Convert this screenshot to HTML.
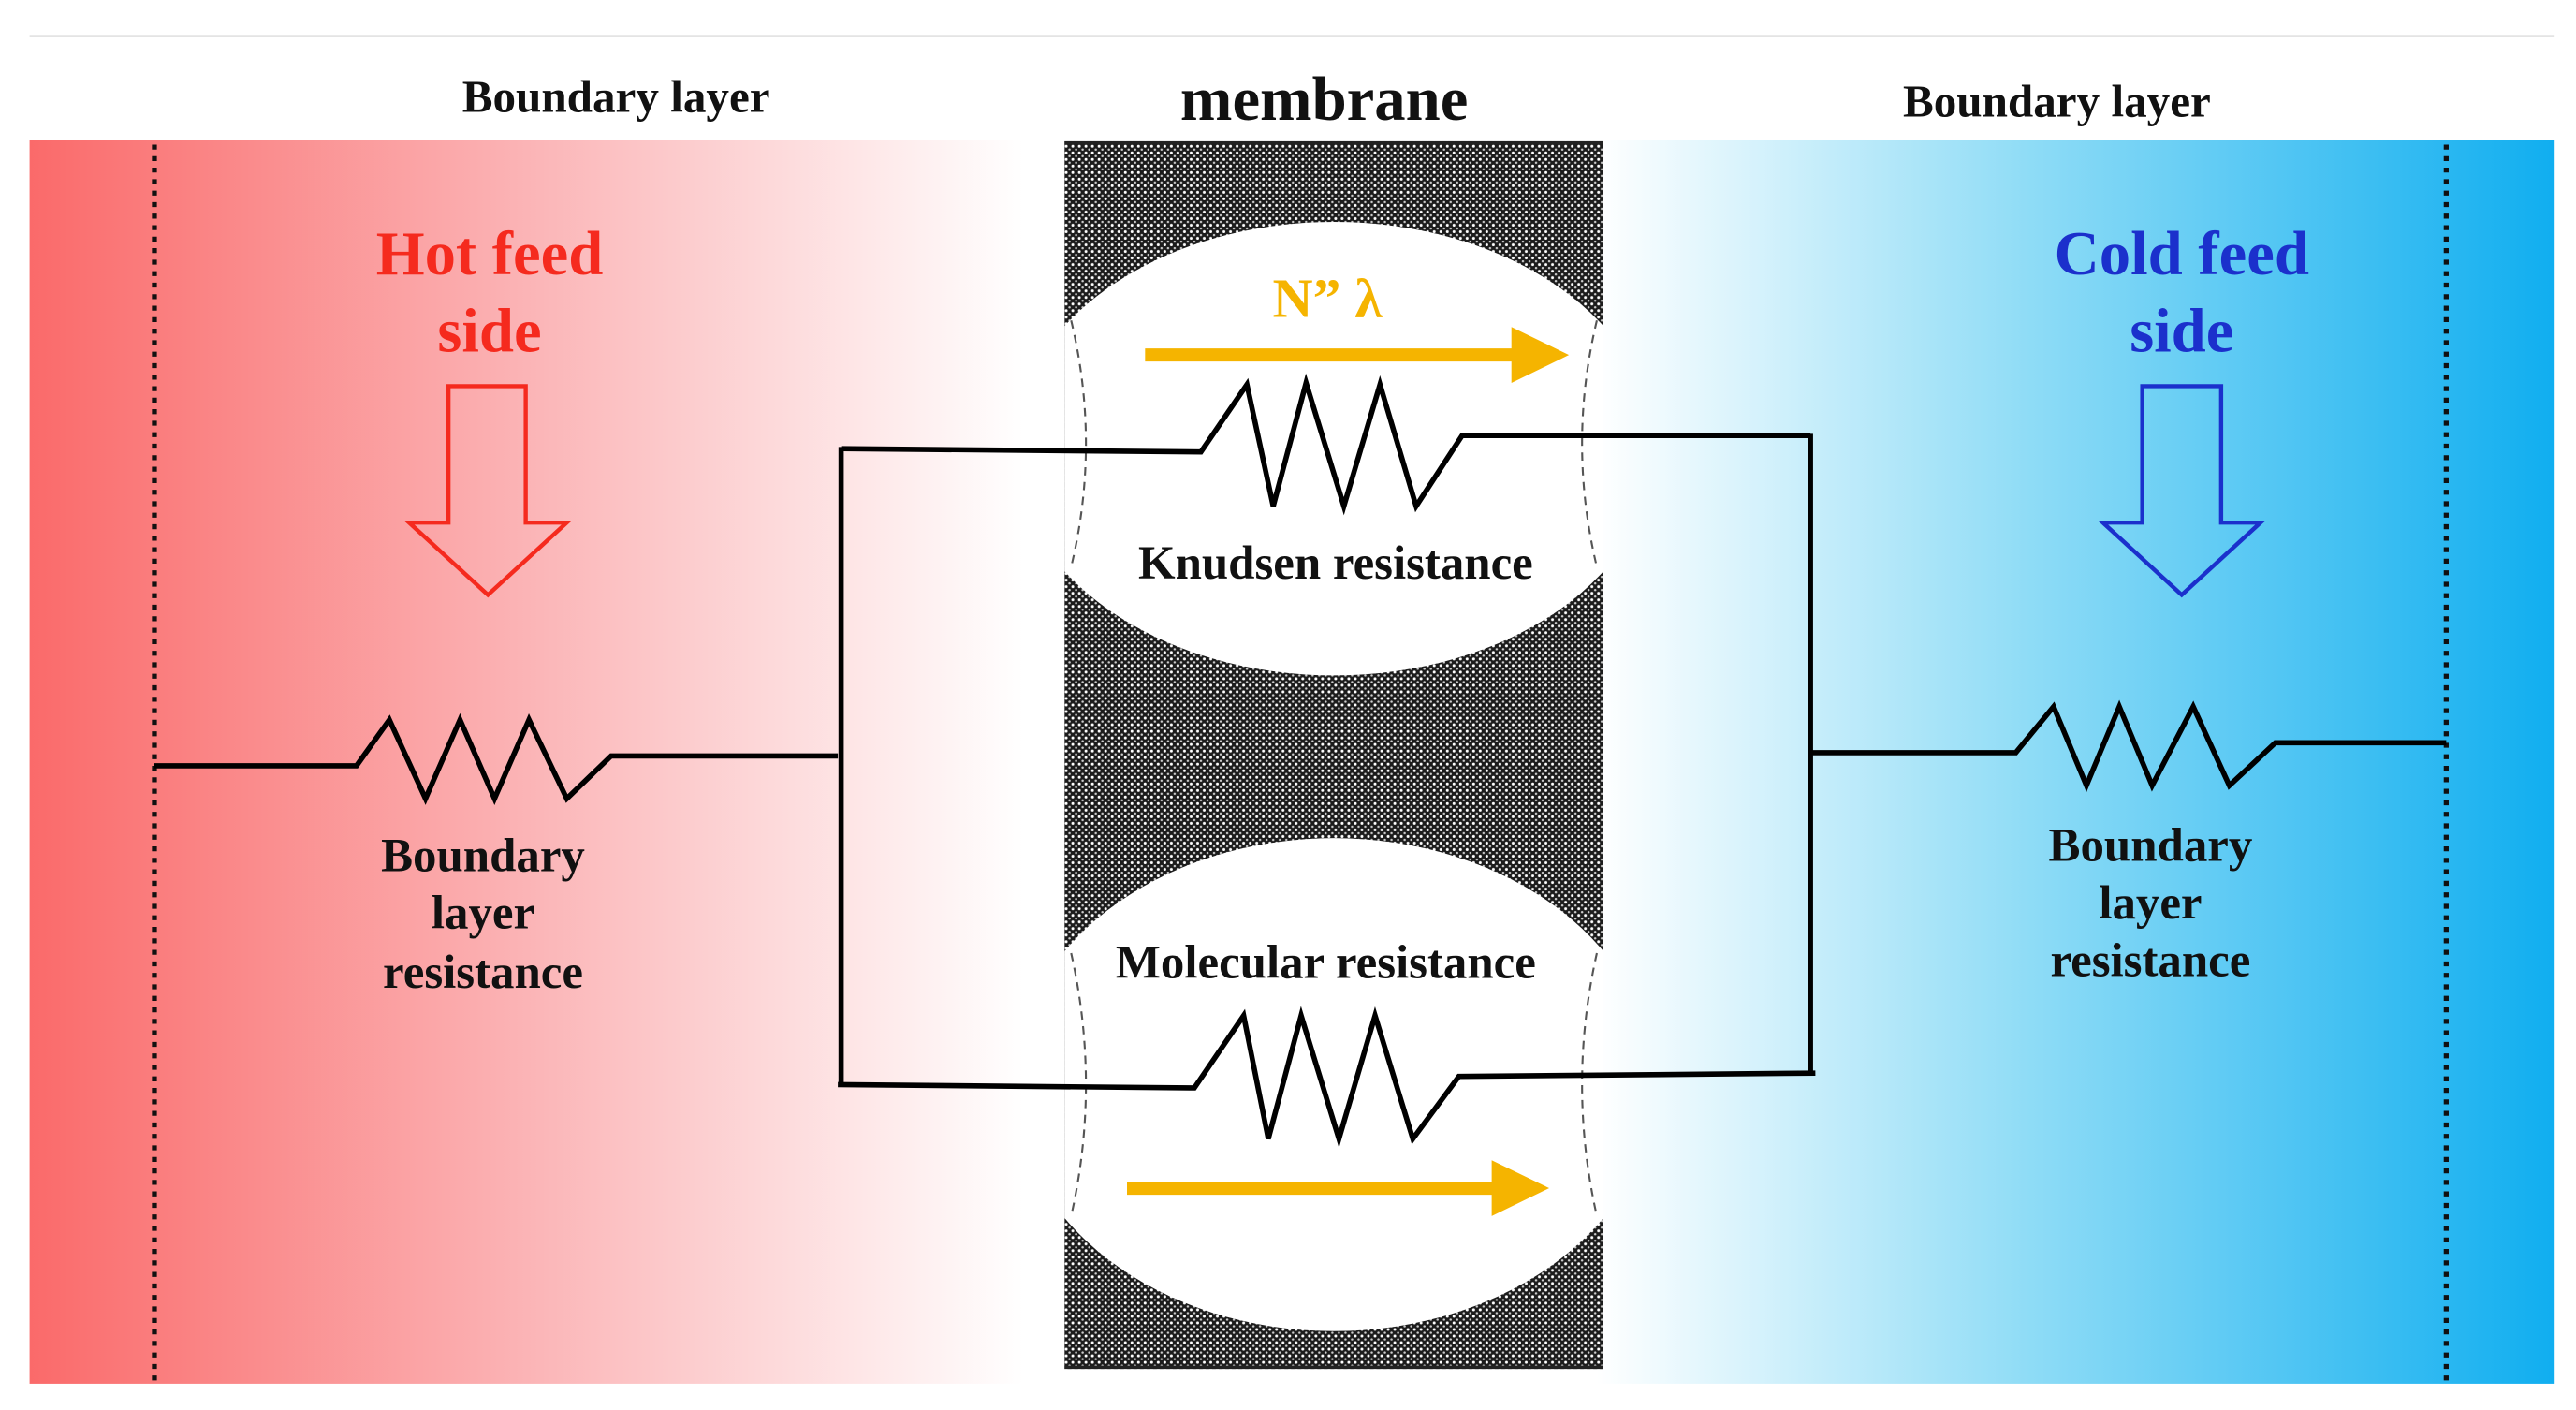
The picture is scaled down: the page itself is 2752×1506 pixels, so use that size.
<!DOCTYPE html>
<html><head><meta charset="utf-8"><style>
html,body{margin:0;padding:0;background:#fff;}
svg{display:block;}
text{font-family:"Liberation Serif",serif;font-weight:bold;}
</style></head><body>
<svg width="2752" height="1506" viewBox="0 0 1568 858" preserveAspectRatio="none" xmlns="http://www.w3.org/2000/svg">
<defs>
<linearGradient id="red" x1="0" x2="1" y1="0" y2="0">
<stop offset="0" stop-color="#fa6a6a"/><stop offset="0.5" stop-color="#fbb4b6"/><stop offset="1" stop-color="#ffffff"/>
</linearGradient>
<linearGradient id="blue" x1="0" x2="1" y1="0" y2="0">
<stop offset="0" stop-color="#ffffff"/><stop offset="0.45" stop-color="#8fdcf6"/><stop offset="1" stop-color="#10aef0"/>
</linearGradient>
<pattern id="dots" width="4" height="4" patternUnits="userSpaceOnUse">
<rect width="4" height="4" fill="#1c1c1c"/>
<circle cx="1" cy="1" r="0.85" fill="#fff"/>
<circle cx="3" cy="3" r="0.7" fill="#ccc"/>
</pattern>
<clipPath id="mem"><rect x="648" y="86" width="328" height="747"/></clipPath>
</defs>
<line x1="18" y1="22" x2="1555" y2="22" stroke="#e4e4e4" stroke-width="1.5"/>
<rect x="18" y="85" width="605" height="757" fill="url(#red)"/>
<rect x="972" y="85" width="583" height="757" fill="url(#blue)"/>
<line x1="94" y1="88" x2="94" y2="842" stroke="#111" stroke-width="3" stroke-dasharray="3,4"/>
<line x1="1489" y1="88" x2="1489" y2="842" stroke="#111" stroke-width="3" stroke-dasharray="3,4"/>
<rect x="648" y="86" width="328" height="747" fill="url(#dots)"/>
<rect x="648" y="86" width="328" height="2" fill="#222"/>
<rect x="648" y="831" width="328" height="2" fill="#222"/>
<g clip-path="url(#mem)">
<ellipse cx="812" cy="273" rx="195" ry="138" fill="#fff"/>
<ellipse cx="812" cy="660" rx="195" ry="150" fill="#fff"/>
</g>
<g fill="none" stroke="#555" stroke-width="1.2" stroke-dasharray="5,4">
<path d="M652 195 Q670 270 652 345"/>
<path d="M972 195 Q954 270 972 345"/>
<path d="M652 580 Q670 660 652 740"/>
<path d="M972 580 Q954 660 972 740"/>
</g>
<text x="375" y="68" font-size="28" text-anchor="middle" fill="#111">Boundary layer</text>
<text x="806" y="73" font-size="38" text-anchor="middle" fill="#111">membrane</text>
<text x="1252" y="71" font-size="28" text-anchor="middle" fill="#111">Boundary layer</text>
<text x="298" y="167" font-size="38" text-anchor="middle" fill="#f52a1e">Hot feed</text>
<text x="298" y="214" font-size="38" text-anchor="middle" fill="#f52a1e">side</text>
<text x="1328" y="167" font-size="38" text-anchor="middle" fill="#1b30cc">Cold feed</text>
<text x="1328" y="214" font-size="38" text-anchor="middle" fill="#1b30cc">side</text>
<path d="M273 235 H320 V318 H345 L297 362 L249 318 H273 Z" fill="none" stroke="#f52a1e" stroke-width="2.5"/>
<path d="M1304 235 H1352 V318 H1376 L1328 362 L1280 318 H1304 Z" fill="none" stroke="#1b30cc" stroke-width="2.5"/>
<text x="808" y="193" font-size="34" text-anchor="middle" fill="#f5b400">N” λ</text>
<line x1="697" y1="216" x2="925" y2="216" stroke="#f5b400" stroke-width="8"/>
<path d="M920 199 L955 216 L920 233 Z" fill="#f5b400"/>
<line x1="686" y1="723" x2="913" y2="723" stroke="#f5b400" stroke-width="8"/>
<path d="M908 706 L943 723 L908 740 Z" fill="#f5b400"/>
<g fill="none" stroke="#000" stroke-width="3.2" stroke-linejoin="miter">
<polyline points="94,466 217,466 237,438 259,486 280,438 301,486 322,438 345,486 372,460 510,460"/>
<line x1="512" y1="272" x2="512" y2="661"/>
<polyline points="512,273 731,275 759,234 775,308 795,233 818,308 840,234 862,308 890,265 1102,265"/>
<line x1="1102" y1="264" x2="1102" y2="654"/>
<polyline points="1102,458 1227,458 1250,430 1270,478 1290,430 1310,478 1335,430 1357,478 1385,452 1489,452"/>
<polyline points="510,660 727,662 757,618 772,693 792,618 815,693 837,618 860,693 888,655 1105,653"/>
</g>
<text x="813" y="352" font-size="29" text-anchor="middle" fill="#111">Knudsen resistance</text>
<text x="807" y="595" font-size="29" text-anchor="middle" fill="#111">Molecular resistance</text>
<g font-size="29" text-anchor="middle" fill="#111">
<text x="294" y="530">Boundary</text><text x="294" y="565">layer</text><text x="294" y="601">resistance</text>
<text x="1309" y="524">Boundary</text><text x="1309" y="559">layer</text><text x="1309" y="594">resistance</text>
</g>
</svg>
</body></html>
